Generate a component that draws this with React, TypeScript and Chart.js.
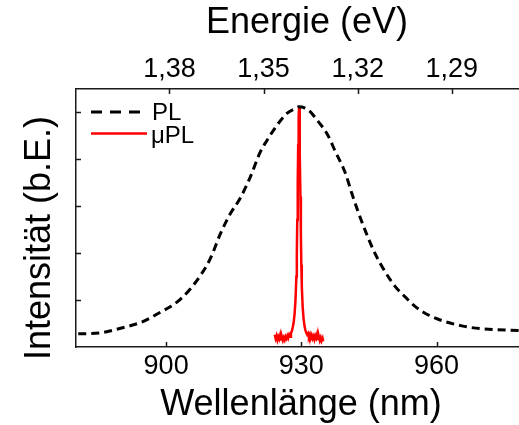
import React, { useEffect, useRef } from 'react';
import { Chart, registerables } from 'chart.js';

Chart.register(...registerables);

const plWavelength = [880.5, 885.4, 889.9, 894.3, 896.5, 898.7, 901.0, 903.2, 905.4, 907.6, 909.8, 912.0, 914.2, 916.4, 918.6, 920.9, 922.4, 924.6, 926.8, 929.0, 929.4, 931.6, 933.8, 935.7, 937.5, 939.8, 941.2, 942.7, 944.2, 946.4, 948.6, 950.8, 953.1, 955.3, 958.2, 961.9, 965.6, 969.7, 978.3];
const plIntensity = [0.28, 0.30, 0.40, 0.52, 0.62, 0.74, 0.86, 1.02, 1.24, 1.52, 1.88, 2.40, 2.83, 3.16, 3.60, 4.15, 4.40, 4.72, 4.97, 5.09, 5.11, 5.04, 4.79, 4.54, 4.17, 3.69, 3.27, 2.85, 2.47, 1.98, 1.60, 1.29, 1.06, 0.86, 0.68, 0.54, 0.45, 0.39, 0.35];

const muWavelength = [924.1, 924.3, 924.5, 924.7, 924.9, 925.1, 925.3, 925.5, 925.7, 925.9, 926.1, 926.3, 926.5, 926.7, 926.9, 927.1, 927.3, 927.5, 927.7, 927.9, 928.1, 928.3, 928.5, 928.7, 928.9, 929.0, 929.1, 929.2, 929.3, 929.4, 929.5, 929.6, 929.7, 929.8, 929.9, 930.0, 930.1, 930.3, 930.5, 930.7, 930.9, 931.1, 931.3, 931.5, 931.7, 931.9, 932.1, 932.3, 932.5, 932.7, 932.9, 933.1, 933.3, 933.5, 933.7, 933.9, 934.1, 934.3, 934.5, 934.7, 934.8];
const muIntensity = [0.26, 0.18, 0.24, 0.15, 0.22, 0.17, 0.25, 0.16, 0.21, 0.14, 0.20, 0.15, 0.22, 0.18, 0.24, 0.19, 0.26, 0.22, 0.30, 0.34, 0.42, 0.52, 0.70, 0.98, 1.50, 2.00, 2.70, 3.50, 4.30, 4.90, 5.12, 4.85, 4.10, 3.20, 2.40, 1.75, 1.30, 0.85, 0.60, 0.45, 0.36, 0.30, 0.26, 0.29, 0.22, 0.27, 0.19, 0.25, 0.18, 0.23, 0.16, 0.24, 0.19, 0.27, 0.17, 0.22, 0.14, 0.20, 0.13, 0.18, 0.12];

const wavelengthTicks = [900, 930, 960];
const energyTicks = [1.38, 1.35, 1.32, 1.29];
const intensityTicks = [1, 2, 3, 4, 5];
const seriesLabels = ['PL', 'μPL'];
const axisTitles = { top: 'Energie (eV)', bottom: 'Wellenlänge (nm)', left: 'Intensität (b.E.)' };

const FONT = '"Liberation Sans", Arial, Helvetica, sans-serif';
const AXIS_COLOR = '#1a1a1a';

export default function App() {
  const ref = useRef<HTMLCanvasElement>(null);

  useEffect(() => {
    document.body.style.margin = '0';
    const canvas = ref.current;
    if (!canvas) return;

    const overlay = {
      id: 'overlay',
      afterDraw(chart: any) {
        const { ctx, chartArea } = chart;
        const sx = chart.scales.x;
        const sx2 = chart.scales.x2;
        const sy = chart.scales.y;
        ctx.save();
        // inward tick marks
        ctx.strokeStyle = AXIS_COLOR;
        ctx.lineWidth = 1.5;
        ctx.beginPath();
        wavelengthTicks.forEach((v) => {
          const px = Math.round(sx.getPixelForValue(v)) + 0.5;
          ctx.moveTo(px, chartArea.bottom);
          ctx.lineTo(px, chartArea.bottom - 5);
        });
        energyTicks.forEach((v) => {
          const px = Math.round(sx2.getPixelForValue(v)) + 0.5;
          ctx.moveTo(px, chartArea.top);
          ctx.lineTo(px, chartArea.top + 5);
        });
        intensityTicks.forEach((v) => {
          const py = Math.round(sy.getPixelForValue(v)) + 0.5;
          ctx.moveTo(chartArea.left, py);
          ctx.lineTo(chartArea.left + 5, py);
        });
        ctx.stroke();

        // axis titles
        ctx.fillStyle = '#000';
        ctx.font = `36px ${FONT}`;
        ctx.textAlign = 'center';
        ctx.textBaseline = 'alphabetic';
        ctx.fillText(axisTitles.top, 307, 33);
        ctx.fillText(axisTitles.bottom, 301, 415);
        ctx.save();
        ctx.translate(50, 238);
        ctx.rotate(-Math.PI / 2);
        ctx.fillText(axisTitles.left, 0, 0);
        ctx.restore();

        // legend
        ctx.lineWidth = 3;
        ctx.strokeStyle = '#000';
        ctx.setLineDash([11, 8]);
        ctx.beginPath();
        ctx.moveTo(91, 112);
        ctx.lineTo(142, 112);
        ctx.stroke();
        ctx.setLineDash([]);
        ctx.strokeStyle = '#ff0000';
        ctx.lineWidth = 2.5;
        ctx.beginPath();
        ctx.moveTo(91, 133.5);
        ctx.lineTo(147, 133.5);
        ctx.stroke();
        ctx.font = `24px ${FONT}`;
        ctx.textAlign = 'left';
        ctx.fillStyle = '#000';
        ctx.fillText(seriesLabels[0], 152, 120);
        ctx.fillText(seriesLabels[1], 151, 143);
        ctx.restore();
      },
    };

    const tickFont = { family: FONT, size: 27 };

    const chart = new Chart(canvas, {
      type: 'line',
      data: {
        datasets: [
          {
            label: seriesLabels[0],
            data: plWavelength.map((x, i) => ({ x, y: plIntensity[i] })),
            borderColor: '#000',
            borderWidth: 3,
            borderDash: [8, 5],
            pointRadius: 0,
            cubicInterpolationMode: 'monotone',
            xAxisID: 'x',
            yAxisID: 'y',
          },
          {
            label: seriesLabels[1],
            data: muWavelength.map((x, i) => ({ x, y: muIntensity[i] })),
            borderColor: '#ff0000',
            borderWidth: 2.5,
            pointRadius: 0,
            tension: 0,
            xAxisID: 'x',
            yAxisID: 'y',
          },
        ],
      },
      options: {
        responsive: false,
        animation: false,
        layout: { padding: 0 },
        plugins: { legend: { display: false }, tooltip: { enabled: false } },
        scales: {
          x: {
            type: 'linear',
            position: 'bottom',
            min: 880,
            max: 978.3,
            afterBuildTicks: (s: any) => {
              s.ticks = wavelengthTicks.map((v) => ({ value: v }));
            },
            afterFit: (s: any) => {
              s.height = 78;
            },
            grid: { display: false, drawTicks: false },
            border: { display: true, color: AXIS_COLOR, width: 1.5 },
            ticks: { font: tickFont, color: '#000', padding: 3, maxRotation: 0, autoSkip: false },
          },
          x2: {
            type: 'linear',
            position: 'top',
            reverse: true,
            min: 1.2686,
            max: 1.4098,
            afterBuildTicks: (s: any) => {
              s.ticks = energyTicks.map((v) => ({ value: v }));
            },
            afterFit: (s: any) => {
              s.height = 89;
            },
            grid: { display: false, drawTicks: false },
            border: { display: true, color: AXIS_COLOR, width: 1.5 },
            ticks: {
              font: tickFont,
              color: '#000',
              padding: 3,
              maxRotation: 0,
              autoSkip: false,
              callback: (v: any) => Number(v).toFixed(2).replace('.', ','),
            },
          },
          y: {
            type: 'linear',
            position: 'left',
            min: 0,
            max: 5.49,
            afterBuildTicks: (s: any) => {
              s.ticks = intensityTicks.map((v) => ({ value: v }));
            },
            afterFit: (s: any) => {
              s.width = 76;
            },
            grid: { display: false, drawTicks: false },
            border: { display: true, color: AXIS_COLOR, width: 1.5 },
            ticks: { display: false },
          },
        },
      },
      plugins: [overlay],
    } as any);

    return () => chart.destroy();
  }, []);

  return (
    <div style={{ width: 519, height: 425 }}>
      <canvas ref={ref} width={519} height={425} style={{ display: 'block' }} />
    </div>
  );
}
